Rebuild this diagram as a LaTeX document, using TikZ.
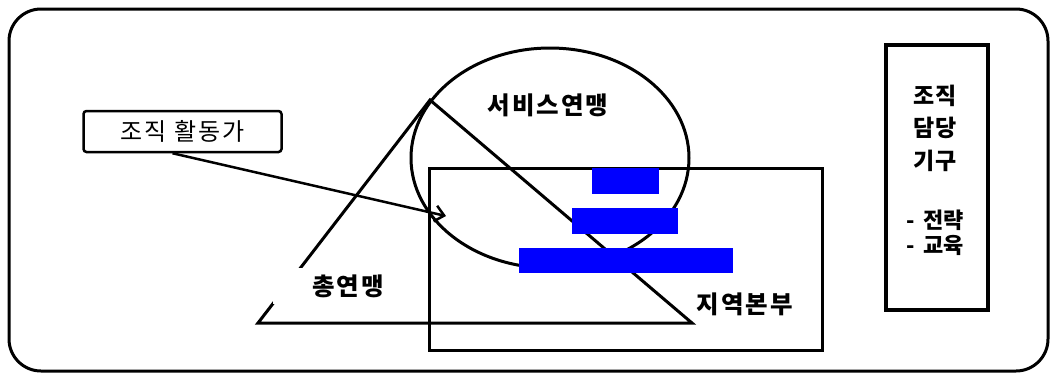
\documentclass[tikz,border=0pt]{standalone}
\usepackage{fontspec}
\setmainfont{Noto Sans CJK KR}
\usetikzlibrary{arrows.meta}
\begin{document}
\begin{tikzpicture}[x=1pt,y=-1pt,
  ln/.style={line width=3pt,black},
  lbl/.style={font=\fontsize{24.5}{28}\selectfont\bfseries\addfontfeature{LetterSpace=8},inner sep=1pt},
  bluebar/.style={fill={rgb,255:red,0;green,0;blue,255},draw=none}]
\useasboundingbox (0,0) rectangle (1053,376);
% outer frame
\draw[ln,rounded corners=32pt] (9,9) rectangle (1048,371);
% ellipse
\draw[ln] (550,158) ellipse [x radius=139, y radius=110];
% triangle
\draw[ln] (430,100) coordinate (apex) -- (692,323) coordinate (tr) -- (258,323) coordinate (tl) -- cycle;
% region rectangle
\draw[ln] (429,168) rectangle (822,350);
% blue bars
\fill[bluebar] (592,168) rectangle (659,194);
\fill[bluebar] (572,208) rectangle (678,234);
\fill[bluebar] (519,248) rectangle (733,273);
% labels
\node[lbl] (svc) at (548,105) {서비스연맹};
\node[lbl,fill=white,minimum width=150pt,minimum height=36pt] (fed) at (348,286) {총연맹};
\node[lbl] (reg) at (745,304) {지역본부};
% activist box
\node[draw,line width=2.5pt,rounded corners=3pt,minimum width=198pt,minimum height=41pt,
      font=\fontsize{24}{28}\selectfont\addfontfeature{LetterSpace=8},inner sep=0pt] (act) at (182.5,131.5) {조직 활동가};
\coordinate (tip) at (446,216);
\draw[line width=2.5pt,-{Straight Barb[length=9pt,width=16pt,line width=2.5pt]}] ([xshift=-10pt]act.south) -- (tip);
% right box
\draw[line width=3.5pt] (886,45) rectangle (988,310);
\node[lbl,align=center,font=\fontsize{23}{32.5}\selectfont\bfseries\addfontfeature{LetterSpace=5}] (org) at (935,128) {조직\\담당\\기구};
\node[lbl,align=left,font=\fontsize{22}{25}\selectfont\bfseries] (list) at (935,233) {-\, 전략\\-\, 교육};
\end{tikzpicture}
\end{document}
